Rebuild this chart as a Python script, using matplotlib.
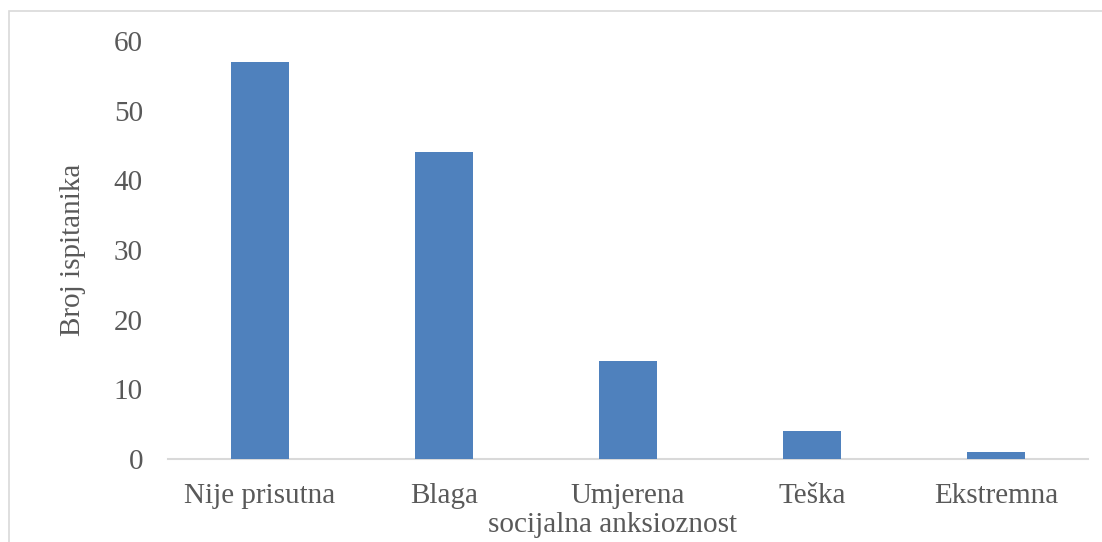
import matplotlib.pyplot as plt
from matplotlib.patches import Rectangle

categories = ["Nije prisutna", "Blaga", "Umjerena", "Teška", "Ekstremna"]
counts = [57, 44, 14, 4, 1]
y_ticks = [0, 10, 20, 30, 40, 50, 60]

plt.rcParams["font.family"] = ["Liberation Serif", "DejaVu Serif"]
text_color = "#595959"
bar_color = "#4F81BD"
line_color = "#D9D9D9"
fs = 21

fig = plt.figure(figsize=(11.02, 5.42), dpi=100)
fig.patches.append(Rectangle((9 / 1102, -0.01), 1.0, 1 - 11 / 542 + 0.01,
                             transform=fig.transFigure, fill=False,
                             edgecolor=line_color, linewidth=1.2))

ax = fig.add_axes([168 / 1102, 1 - 459 / 542, 920 / 1102, 418 / 542])
x = range(len(categories))
ax.bar(x, counts, width=0.315, color=bar_color, zorder=3)

ax.set_xlim(-0.5, len(categories) - 0.5)
ax.set_ylim(0, 60)
ax.set_yticks(y_ticks)
ax.set_xticks(list(x))
ax.set_xticklabels(categories)

for side in ["top", "right", "left"]:
    ax.spines[side].set_visible(False)
ax.spines["bottom"].set_color(line_color)
ax.spines["bottom"].set_linewidth(1.5)

ax.tick_params(axis="both", length=0, labelsize=fs, colors=text_color)
ax.tick_params(axis="x", pad=17)
ax.tick_params(axis="y", pad=18)

ax.set_ylabel("Broj ispitanika", fontsize=fs, color=text_color)
ax.yaxis.set_label_coords(-0.089, 0.5)
ax.set_xlabel("socijalna anksioznost", fontsize=fs, color=text_color)
ax.xaxis.set_label_coords(0.483, -0.127)

fig.savefig("out.png", dpi=100)
